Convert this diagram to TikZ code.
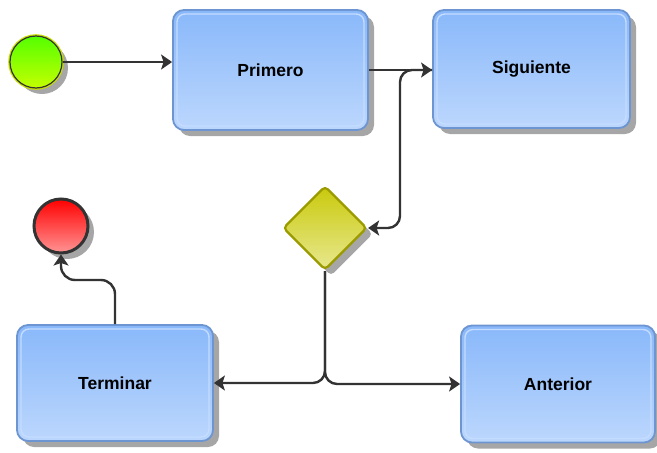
\documentclass[tikz,border=0pt]{standalone}
\usepackage{fontspec}
\setmainfont{Liberation Sans}
\usetikzlibrary{shapes.geometric,shadows,arrows.meta}

\definecolor{boxedge}{HTML}{6D95D2}
\definecolor{boxtop}{HTML}{89B8FA}
\definecolor{boxbot}{HTML}{BCD7FD}
\definecolor{boxrim}{HTML}{C4DCFF}
\definecolor{shadowgray}{HTML}{A6A6A6}
\definecolor{flowline}{HTML}{333333}
\definecolor{gwtop}{HTML}{C9C90C}
\definecolor{gwbot}{HTML}{E8E890}
\definecolor{gwedge}{HTML}{9B9B00}
\definecolor{starttop}{HTML}{55FF00}
\definecolor{startbot}{HTML}{C4FF00}
\definecolor{starthalo}{HTML}{C8E000}
\definecolor{endtop}{HTML}{FF0000}
\definecolor{endbot}{HTML}{FF9494}

\tikzset{
  shade/.style={drop shadow={shadow xshift=6pt, shadow yshift=-6pt,
      fill=shadowgray, opacity=1}},
  task/.style={shade, rectangle, rounded corners=11pt, draw=boxedge,
      line width=1.8pt, top color=boxtop, bottom color=boxbot,
      inner sep=0pt, font=\fontsize{17.5}{20}\selectfont\bfseries,
      path picture={\draw[boxrim, line width=1.4pt, rounded corners=8pt]
        ([shift={(4pt,-4pt)}]path picture bounding box.north west) rectangle
        ([shift={(-4pt,4pt)}]path picture bounding box.south east);}},
  gateway/.style={shade, diamond, aspect=1, rounded corners=4pt,
      draw=gwedge, line width=2.2pt, top color=gwtop, bottom color=gwbot,
      inner sep=0pt, minimum width=84pt, minimum height=84pt},
  startev/.style={shade, circle, inner sep=0pt, minimum size=52pt,
      preaction={draw=starthalo, line width=3.6pt},
      top color=starttop, bottom color=startbot,
      draw=flowline, line width=1.2pt},
  endev/.style={shade, circle, inner sep=0pt, minimum size=52pt,
      top color=endtop, bottom color=endbot,
      draw=flowline, line width=3pt},
  flow/.style={draw=flowline, line width=2.4pt,
      -{Stealth[length=11pt, width=15pt, inset=2.5pt]}}
}

\begin{document}
\begin{tikzpicture}[x=1pt, y=-1pt]
  \useasboundingbox (0,0) rectangle (657,453);

  % events, tasks and the gateway
  \node[startev] (start) at (36,62) {};
  \node[task, minimum width=195pt, minimum height=120pt] (primero) at (270.5,70) {Primero};
  \node[task, minimum width=197pt, minimum height=118pt] (siguiente) at (531.5,69) {Siguiente};
  \node[gateway] (gw) at (325,228) {};
  \node[endev, minimum size=54pt] (end) at (61,226) {};
  \node[task, minimum width=196pt, minimum height=116pt] (terminar) at (115,383) {Terminar};
  \node[task, minimum width=194pt, minimum height=117pt] (anterior) at (558,384) {Anterior};

  % bend points of the sequence flows
  \coordinate (loop) at (400,70);
  \coordinate (up) at (88,280);

  % sequence flows
  \draw[flow] (start.east) -- (start.east -| primero.west);
  \draw[flow] (primero.east) -- (primero.east -| siguiente.west);
  \draw[flow, rounded corners=12pt] (primero.east -| siguiente.west) -- (loop) |- (gw.east);
  \draw[flow, rounded corners=12pt] (gw.south) |- (terminar.east);
  \draw[flow, rounded corners=12pt] (gw.south) |- (anterior.west);
  \draw[flow, rounded corners=14pt] (terminar.north) |- (up) -| (end.south);
\end{tikzpicture}
\end{document}
